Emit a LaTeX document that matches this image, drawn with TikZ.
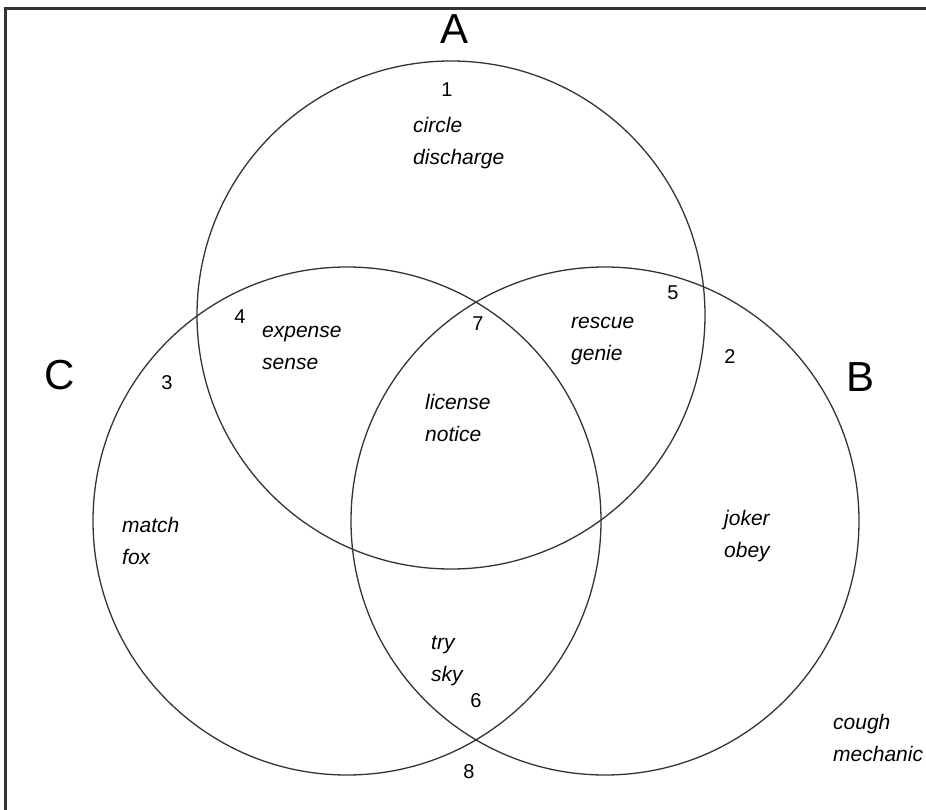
\documentclass[tikz,border=0pt]{standalone}
\usepackage{fontspec}
\setmainfont{Liberation Sans}
\usetikzlibrary{positioning}

\begin{document}
\begin{tikzpicture}[x=1pt, y=-1pt,
        %Styles
        Set/.style={
            circle,
            draw=black!80,
            line width=1.3pt,
            minimum size=508pt,
            inner sep=0pt,
        },
        Letter/.style={font=\fontsize{42}{42}\selectfont, text height=0.716em, text depth=0pt, inner sep=0pt},
        Num/.style={font=\fontsize{20}{20}\selectfont, text height=0.716em, text depth=0pt, inner sep=0pt},
        Word/.style={font=\fontsize{21}{21}\selectfont\itshape, anchor=west,
            text height=0.72em, text depth=0.2em, inner sep=0pt},
    ]
\useasboundingbox (0,0) rectangle (926,810);

%frame
\draw[black!80, line width=3pt] (5,812) -- (5,9) -- (928,9);

%sets
\node[Set] (setA) at (451,315) {};
\node[Set] (setB) at (605,521) {};
\node[Set] (setC) at (347,521) {};

\node[Letter] (labA) at (455,40) {A};
\node[Letter] (labB) at (860,388) {B};
\node[Letter] (labC) at (60,386) {C};

%region numbers
\node[Num] (n1) at (447,93) {1};
\node[Num] (n2) at (730,360) {2};
\node[Num] (n3) at (167,386) {3};
\node[Num] (n4) at (240,320) {4};
\node[Num] (n5) at (673,296) {5};
\node[Num] (n6) at (476,704) {6};
\node[Num] (n7) at (478,327) {7};
\node[Num] (n8) at (469,775) {8};

%words
\node[Word] (w1a) at (413,130) {circle};
\node[Word, yshift=-32pt] (w1b) at (w1a.west) {discharge};
\node[Word] (w4a) at (262,335) {expense};
\node[Word, yshift=-32pt] (w4b) at (w4a.west) {sense};
\node[Word] (w5a) at (571,326) {rescue};
\node[Word, yshift=-32pt] (w5b) at (w5a.west) {genie};
\node[Word] (w7a) at (425,407) {license};
\node[Word, yshift=-32pt] (w7b) at (w7a.west) {notice};
\node[Word] (w3a) at (122,530) {match};
\node[Word, yshift=-32pt] (w3b) at (w3a.west) {fox};
\node[Word] (w2a) at (724,523) {joker};
\node[Word, yshift=-32pt] (w2b) at (w2a.west) {obey};
\node[Word] (w6a) at (431,647) {try};
\node[Word, yshift=-32pt] (w6b) at (w6a.west) {sky};
\node[Word] (w8a) at (833,727) {cough};
\node[Word, yshift=-32pt] (w8b) at (w8a.west) {mechanic};

\end{tikzpicture}
\end{document}
